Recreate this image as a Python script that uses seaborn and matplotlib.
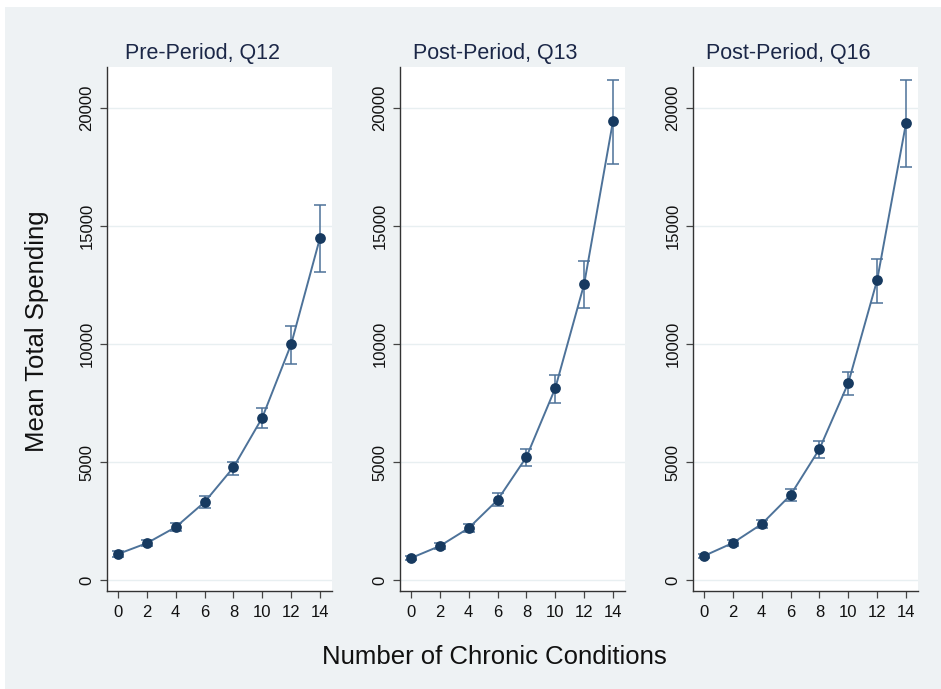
import matplotlib
matplotlib.use("Agg")
import matplotlib.pyplot as plt
from matplotlib.patches import Rectangle
import seaborn as sns

# Number of chronic conditions on the x axis
conditions = [0, 2, 4, 6, 8, 10, 12, 14]
x_ticks = [0, 2, 4, 6, 8, 10, 12, 14]
y_ticks = [0, 5000, 10000, 15000, 20000]

panel_titles = ["Pre-Period, Q12", "Post-Period, Q13", "Post-Period, Q16"]

# Mean total spending with confidence bounds, one set per period
pre_q12_mean = [1100, 1560, 2240, 3300, 4770, 6880, 9990, 14500]
pre_q12_lo = [990, 1430, 2090, 3060, 4430, 6420, 9160, 13050]
pre_q12_hi = [1220, 1700, 2400, 3540, 5000, 7290, 10760, 15890]

post_q13_mean = [930, 1440, 2200, 3390, 5210, 8130, 12540, 19450]
post_q13_lo = [840, 1320, 2040, 3130, 4830, 7500, 11520, 17620]
post_q13_hi = [1030, 1570, 2370, 3670, 5560, 8690, 13520, 21190]

post_q16_mean = [1020, 1570, 2370, 3600, 5550, 8350, 12710, 19360]
post_q16_lo = [930, 1440, 2200, 3350, 5170, 7840, 11740, 17500]
post_q16_hi = [1120, 1710, 2550, 3860, 5880, 8820, 13600, 21190]

series = [
    (pre_q12_mean, pre_q12_lo, pre_q12_hi),
    (post_q13_mean, post_q13_lo, post_q13_hi),
    (post_q16_mean, post_q16_lo, post_q16_hi),
]

sns.set_theme(style="white")
plt.rcParams["font.family"] = ["Liberation Sans", "DejaVu Sans"]

W, H = 941, 689
fig = plt.figure(figsize=(W / 100, H / 100), dpi=100)
fig.patch.set_facecolor("white")

region_bg = "#eef2f4"
grid_col = "#e8eff1"
marker_col = "#173a60"
line_col = "#4d7299"
title_col = "#1b2747"

# Light graph-region backdrop
fig.add_artist(Rectangle((5 / W, 0), 1 - 5 / W, (H - 7) / H,
                         transform=fig.transFigure, facecolor=region_bg,
                         edgecolor="none", zorder=-10))

lefts = [107, 400, 693]
top_px, bottom_px, width_px = 67, 591, 225

for left, title, (mean, lo, hi) in zip(lefts, panel_titles, series):
    ax = fig.add_axes([left / W, (H - bottom_px) / H, width_px / W,
                       (bottom_px - top_px) / H])
    ax.set_facecolor("white")

    for yv in y_ticks:
        ax.axhline(yv, color=grid_col, lw=1.0, zorder=0)

    yerr = [[m - l for m, l in zip(mean, lo)], [h - m for m, h in zip(mean, hi)]]
    ax.errorbar(conditions, mean, yerr=yerr, fmt="none", ecolor=line_col,
                elinewidth=1.1, capsize=4, capthick=1.1, zorder=2)
    sns.lineplot(x=conditions, y=mean, ax=ax, color=line_col, lw=1.4,
                 zorder=3, legend=False)
    sns.scatterplot(x=conditions, y=mean, ax=ax, color=marker_col, s=60,
                    edgecolor=marker_col, linewidth=0, zorder=4, legend=False)

    ax.set_xlim(-0.76, 14.83)
    ax.set_ylim(-466, 21737)
    ax.set_xticks(x_ticks)
    ax.set_yticks(y_ticks)
    ax.set_yticklabels([str(v) for v in y_ticks], rotation=90, va="center")
    ax.tick_params(axis="both", which="both", length=5, width=0.9,
                   color="#444444", labelsize=12, labelcolor="#111111",
                   direction="out", left=True, bottom=True)
    ax.tick_params(axis="x", pad=5)
    ax.tick_params(axis="y", pad=4)
    for side in ("top", "right"):
        ax.spines[side].set_visible(False)
    for side in ("left", "bottom"):
        ax.spines[side].set_color("#333333")
        ax.spines[side].set_linewidth(1.0)
    ax.set_xlabel("")
    ax.set_ylabel("")

    cx = (left + width_px / 2 - 17) / W
    fig.text(cx, (H - 53) / H, title, ha="center", va="center",
             fontsize=15.5, color=title_col)

fig.text(37 / W, (H - 331) / H, "Mean Total Spending", rotation=90,
         ha="center", va="center", fontsize=18.5, color="#111111")
fig.text(494 / W, (H - 657) / H, "Number of Chronic Conditions",
         ha="center", va="center", fontsize=18.5, color="#111111")

fig.savefig("out.png", dpi=100, facecolor=fig.get_facecolor())
